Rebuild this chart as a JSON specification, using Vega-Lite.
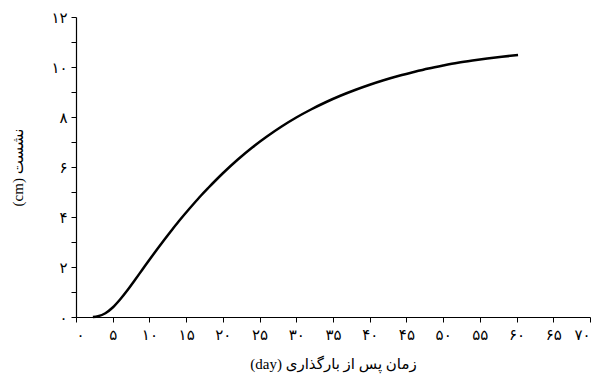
{
  "$schema": "https://vega.github.io/schema/vega-lite/v6.json",
  "width": 514,
  "height": 300,
  "autosize": {"type": "none"},
  "padding": {"left": 76, "top": 17, "right": 13, "bottom": 63},
  "background": "white",
  "config": {
    "view": {"stroke": null},
    "font": "'Liberation Serif', 'DejaVu Sans', serif",
    "axis": {
      "domainColor": "#000",
      "domainWidth": 1.2,
      "tickColor": "#000",
      "tickSize": 5,
      "grid": false,
      "labelColor": "#000",
      "labelFont": "'Liberation Serif', 'DejaVu Sans', serif",
      "labelFontSize": 15,
      "titleFont": "'Liberation Serif', 'DejaVu Sans', serif",
      "titleFontSize": 15,
      "titleFontWeight": "normal",
      "titleColor": "#000"
    }
  },
  "data": {
    "values": [
      {"day": 2.3, "s": 0},
      {"day": 3, "s": 0.03},
      {"day": 4, "s": 0.15},
      {"day": 5, "s": 0.38},
      {"day": 6, "s": 0.7},
      {"day": 7, "s": 1.07},
      {"day": 8, "s": 1.47},
      {"day": 9, "s": 1.88},
      {"day": 10, "s": 2.29},
      {"day": 11, "s": 2.69},
      {"day": 12, "s": 3.08},
      {"day": 13, "s": 3.46},
      {"day": 14, "s": 3.83},
      {"day": 15, "s": 4.18},
      {"day": 16, "s": 4.52},
      {"day": 17, "s": 4.85},
      {"day": 18, "s": 5.16},
      {"day": 19, "s": 5.46},
      {"day": 20, "s": 5.75},
      {"day": 22, "s": 6.29},
      {"day": 24, "s": 6.78},
      {"day": 26, "s": 7.22},
      {"day": 28, "s": 7.62},
      {"day": 30, "s": 7.98},
      {"day": 32, "s": 8.3},
      {"day": 34, "s": 8.59},
      {"day": 36, "s": 8.85},
      {"day": 38, "s": 9.08},
      {"day": 40, "s": 9.29},
      {"day": 42, "s": 9.48},
      {"day": 44, "s": 9.65},
      {"day": 46, "s": 9.8},
      {"day": 48, "s": 9.94},
      {"day": 50, "s": 10.06},
      {"day": 52, "s": 10.17},
      {"day": 54, "s": 10.26},
      {"day": 56, "s": 10.34},
      {"day": 58, "s": 10.41},
      {"day": 60.2, "s": 10.48}
    ]
  },
  "mark": {"type": "line", "color": "#000", "strokeWidth": 2.5, "interpolate": "monotone"},
  "encoding": {
    "x": {
      "field": "day",
      "type": "quantitative",
      "scale": {"domain": [0, 70], "nice": false},
      "axis": {
        "title": "(day) زمان پس از بارگذاری",
        "values": [0, 5, 10, 15, 20, 25, 30, 35, 40, 45, 50, 55, 60, 65, 70],
        "labelPadding": 5,
        "titlePadding": 14,
        "labelExpr": "replace(replace(replace(replace(replace(replace(replace(replace(replace(replace(datum.label,regexp('0','g'),'۰'),regexp('1','g'),'۱'),regexp('2','g'),'۲'),regexp('3','g'),'۳'),regexp('4','g'),'۴'),regexp('5','g'),'۵'),regexp('6','g'),'۶'),regexp('7','g'),'۷'),regexp('8','g'),'۸'),regexp('9','g'),'۹')"
      }
    },
    "y": {
      "field": "s",
      "type": "quantitative",
      "scale": {"domain": [0, 12], "nice": false},
      "axis": {
        "title": "(cm) نشست",
        "values": [0, 1, 2, 3, 4, 5, 6, 7, 8, 9, 10, 11, 12],
        "labelPadding": 4,
        "titlePadding": 25,
        "labelExpr": "datum.value % 2 == 0 ? replace(replace(replace(replace(replace(replace(replace(replace(replace(replace(datum.label,regexp('0','g'),'۰'),regexp('1','g'),'۱'),regexp('2','g'),'۲'),regexp('3','g'),'۳'),regexp('4','g'),'۴'),regexp('5','g'),'۵'),regexp('6','g'),'۶'),regexp('7','g'),'۷'),regexp('8','g'),'۸'),regexp('9','g'),'۹') : ''"
      }
    }
  }
}
